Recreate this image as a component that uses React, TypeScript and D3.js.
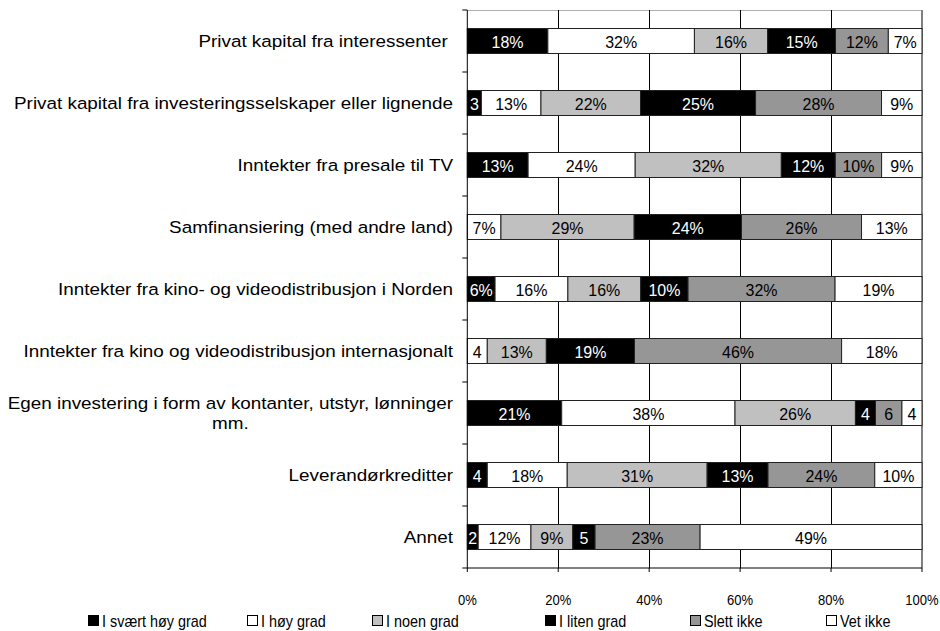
import React, { useEffect, useRef } from "react";
import * as d3 from "d3";

const categories = [
  "Privat kapital fra interessenter ",
  "Privat kapital fra investeringsselskaper eller lignende",
  "Inntekter fra presale til TV",
  "Samfinansiering (med andre land)",
  "Inntekter fra kino- og videodistribusjon i Norden",
  "Inntekter fra kino og videodistribusjon internasjonalt",
  "Egen investering i form av kontanter, utstyr, lønninger|mm.",
  "Leverandørkreditter",
  "Annet",
];
const seriesNames = ["I svært høy grad", "I høy grad", "I noen grad", "I liten grad", "Slett ikke", "Vet ikke"];
const svaertHoy = [17.7, 3.1, 13.4, 0, 6.1, 0, 20.7, 4.4, 2.4];
const hoy = [32.2, 13.1, 23.6, 7.4, 16.0, 4.4, 38.0, 17.6, 11.6];
const noen = [16.1, 21.9, 32.2, 29.3, 16.0, 13.0, 26.4, 30.8, 9.2];
const liten = [14.9, 25.3, 11.9, 23.6, 10.4, 19.4, 4.4, 13.4, 4.9];
const slett = [11.6, 27.7, 10.2, 26.4, 32.3, 45.6, 5.8, 23.5, 23.1];
const vetIkke = [7.4, 8.9, 8.9, 13.3, 19.1, 17.7, 4.4, 10.4, 48.8];
const xTicks = [0, 0.2, 0.4, 0.6, 0.8, 1];

const seriesColors = ["#000000", "#ffffff", "#c0c0c0", "#000000", "#969696", "#ffffff"];
const labelColors = ["#ffffff", "#000000", "#000000", "#ffffff", "#000000", "#000000"];
const legendX = [88, 247, 372, 545, 690, 826];

const FONT = "Arial, 'Liberation Sans', sans-serif";

export default function App() {
  const ref = useRef<SVGSVGElement>(null);

  useEffect(() => {
    const svg = d3.select(ref.current);
    svg.selectAll("*").remove();

    const addText = (
      parent: any,
      tx: number,
      ty: number,
      str: string,
      anchor: string,
      size: number,
      sx: number,
      fill = "#000"
    ) =>
      parent
        .append("text")
        .attr("transform", `translate(${tx},${ty}) scale(${sx},1)`)
        .attr("text-anchor", anchor)
        .attr("dominant-baseline", "central")
        .attr("font-family", FONT)
        .attr("font-size", size)
        .attr("fill", fill)
        .style("white-space", "pre")
        .text(str);

    const left = 467.3, right = 922, top = 10, bottom = 568;
    const keys = seriesNames.map((_, i) => "s" + i);
    const allSeries = [svaertHoy, hoy, noen, liten, slett, vetIkke];
    const rows = categories.map((c, i) => {
      const o: any = { cat: c };
      keys.forEach((k, j) => (o[k] = allSeries[j][i]));
      return o;
    });

    const x = d3.scaleLinear().domain([0, 1]).range([left, right]);
    const y = d3
      .scaleBand<string>()
      .domain(categories)
      .range([top, bottom])
      .paddingInner(0.597)
      .paddingOuter(0.2985);
    const step = y.step();

    const stack = d3.stack<any>().keys(keys).offset(d3.stackOffsetExpand);
    const stacked = stack(rows);

    // top / right frame
    svg.append("line").attr("x1", left).attr("x2", right).attr("y1", top + 0.5).attr("y2", top + 0.5)
      .attr("stroke", "#b0b0b0").attr("stroke-width", 1);
    svg.append("line").attr("x1", right).attr("x2", right).attr("y1", top).attr("y2", bottom)
      .attr("stroke", "#808080").attr("stroke-width", 2);

    // gridlines
    svg.append("g").selectAll("line").data(xTicks.slice(1, -1)).join("line")
      .attr("x1", (d) => Math.round(x(d)) + 0.5).attr("x2", (d) => Math.round(x(d)) + 0.5)
      .attr("y1", top).attr("y2", bottom)
      .attr("stroke", "#000").attr("stroke-width", 1);

    // bars
    const gBars = svg.append("g");
    stacked.forEach((s, si) => {
      const g = gBars.append("g");
      g.selectAll("rect").data(s).join("rect")
        .attr("x", (d) => x(d[0]))
        .attr("y", (d) => y(d.data.cat)!)
        .attr("width", (d) => Math.max(0, x(d[1]) - x(d[0])))
        .attr("height", y.bandwidth())
        .attr("fill", seriesColors[si])
        .attr("stroke", "#222")
        .attr("stroke-width", (d) => (d[1] - d[0] > 0 ? 1 : 0));
      s.filter((d) => d[1] - d[0] > 0).forEach((d) => {
        const v = d.data[keys[si]];
        const lbl = v < 6 ? `${Math.round(v)}` : `${Math.round(v)}%`;
        addText(g, (x(d[0]) + x(d[1])) / 2, y(d.data.cat)! + y.bandwidth() / 2 + 0.5, lbl, "middle", 17, 0.94, labelColors[si]);
      });
    });

    // left axis
    svg.append("line").attr("x1", left).attr("x2", left).attr("y1", top).attr("y2", bottom)
      .attr("stroke", "#000").attr("stroke-width", 1);
    const bounds = d3.range(categories.length + 1).map((k) => top + k * step);
    svg.append("g").selectAll("line").data(bounds).join("line")
      .attr("x1", left - 5).attr("x2", left).attr("y1", (d) => d).attr("y2", (d) => d)
      .attr("stroke", "#000");

    // bottom axis
    svg.append("line").attr("x1", left).attr("x2", right).attr("y1", bottom).attr("y2", bottom)
      .attr("stroke", "#000").attr("stroke-width", 1);
    svg.append("g").selectAll("line").data(xTicks).join("line")
      .attr("x1", (d) => x(d)).attr("x2", (d) => x(d)).attr("y1", bottom).attr("y2", bottom + 4)
      .attr("stroke", "#000");
    xTicks.forEach((t) => addText(svg, x(t), bottom + 32, d3.format(".0%")(t), "middle", 14, 0.93));

    // category labels
    const labelRight = 453;
    const catSize = 17;
    const catSx = 1.11;
    categories.forEach((c) => {
      const lines = c.split("|");
      const cy = y(c)! + y.bandwidth() / 2;
      const lh = 20;
      if (lines.length === 1) {
        addText(svg, labelRight, cy, lines[0], "end", catSize, catSx);
      } else {
        const t0 = addText(svg, labelRight, cy - lh / 2, lines[0], "end", catSize, catSx);
        const w = (t0.node() as SVGTextElement).getComputedTextLength() * catSx;
        const mid = labelRight - w / 2;
        t0.attr("text-anchor", "middle").attr("transform", `translate(${mid},${cy - lh / 2}) scale(${catSx},1)`);
        lines.slice(1).forEach((ln, li) => {
          addText(svg, mid, cy - lh / 2 + (li + 1) * lh, ln, "middle", catSize, catSx);
        });
      }
    });

    // legend
    const legY = 621;
    seriesNames.forEach((n, i) => {
      svg.append("rect")
        .attr("x", legendX[i] + 0.5).attr("y", legY - 5.5)
        .attr("width", 10).attr("height", 10)
        .attr("fill", seriesColors[i]).attr("stroke", "#000").attr("stroke-width", 1);
      addText(svg, legendX[i] + 14, legY + 0.5, n, "start", 16, 0.9);
    });
  }, []);

  return (
    <svg
      ref={ref}
      width={940}
      height={631}
      style={{ position: "absolute", left: 0, top: 0, background: "#fff", display: "block" }}
    />
  );
}
